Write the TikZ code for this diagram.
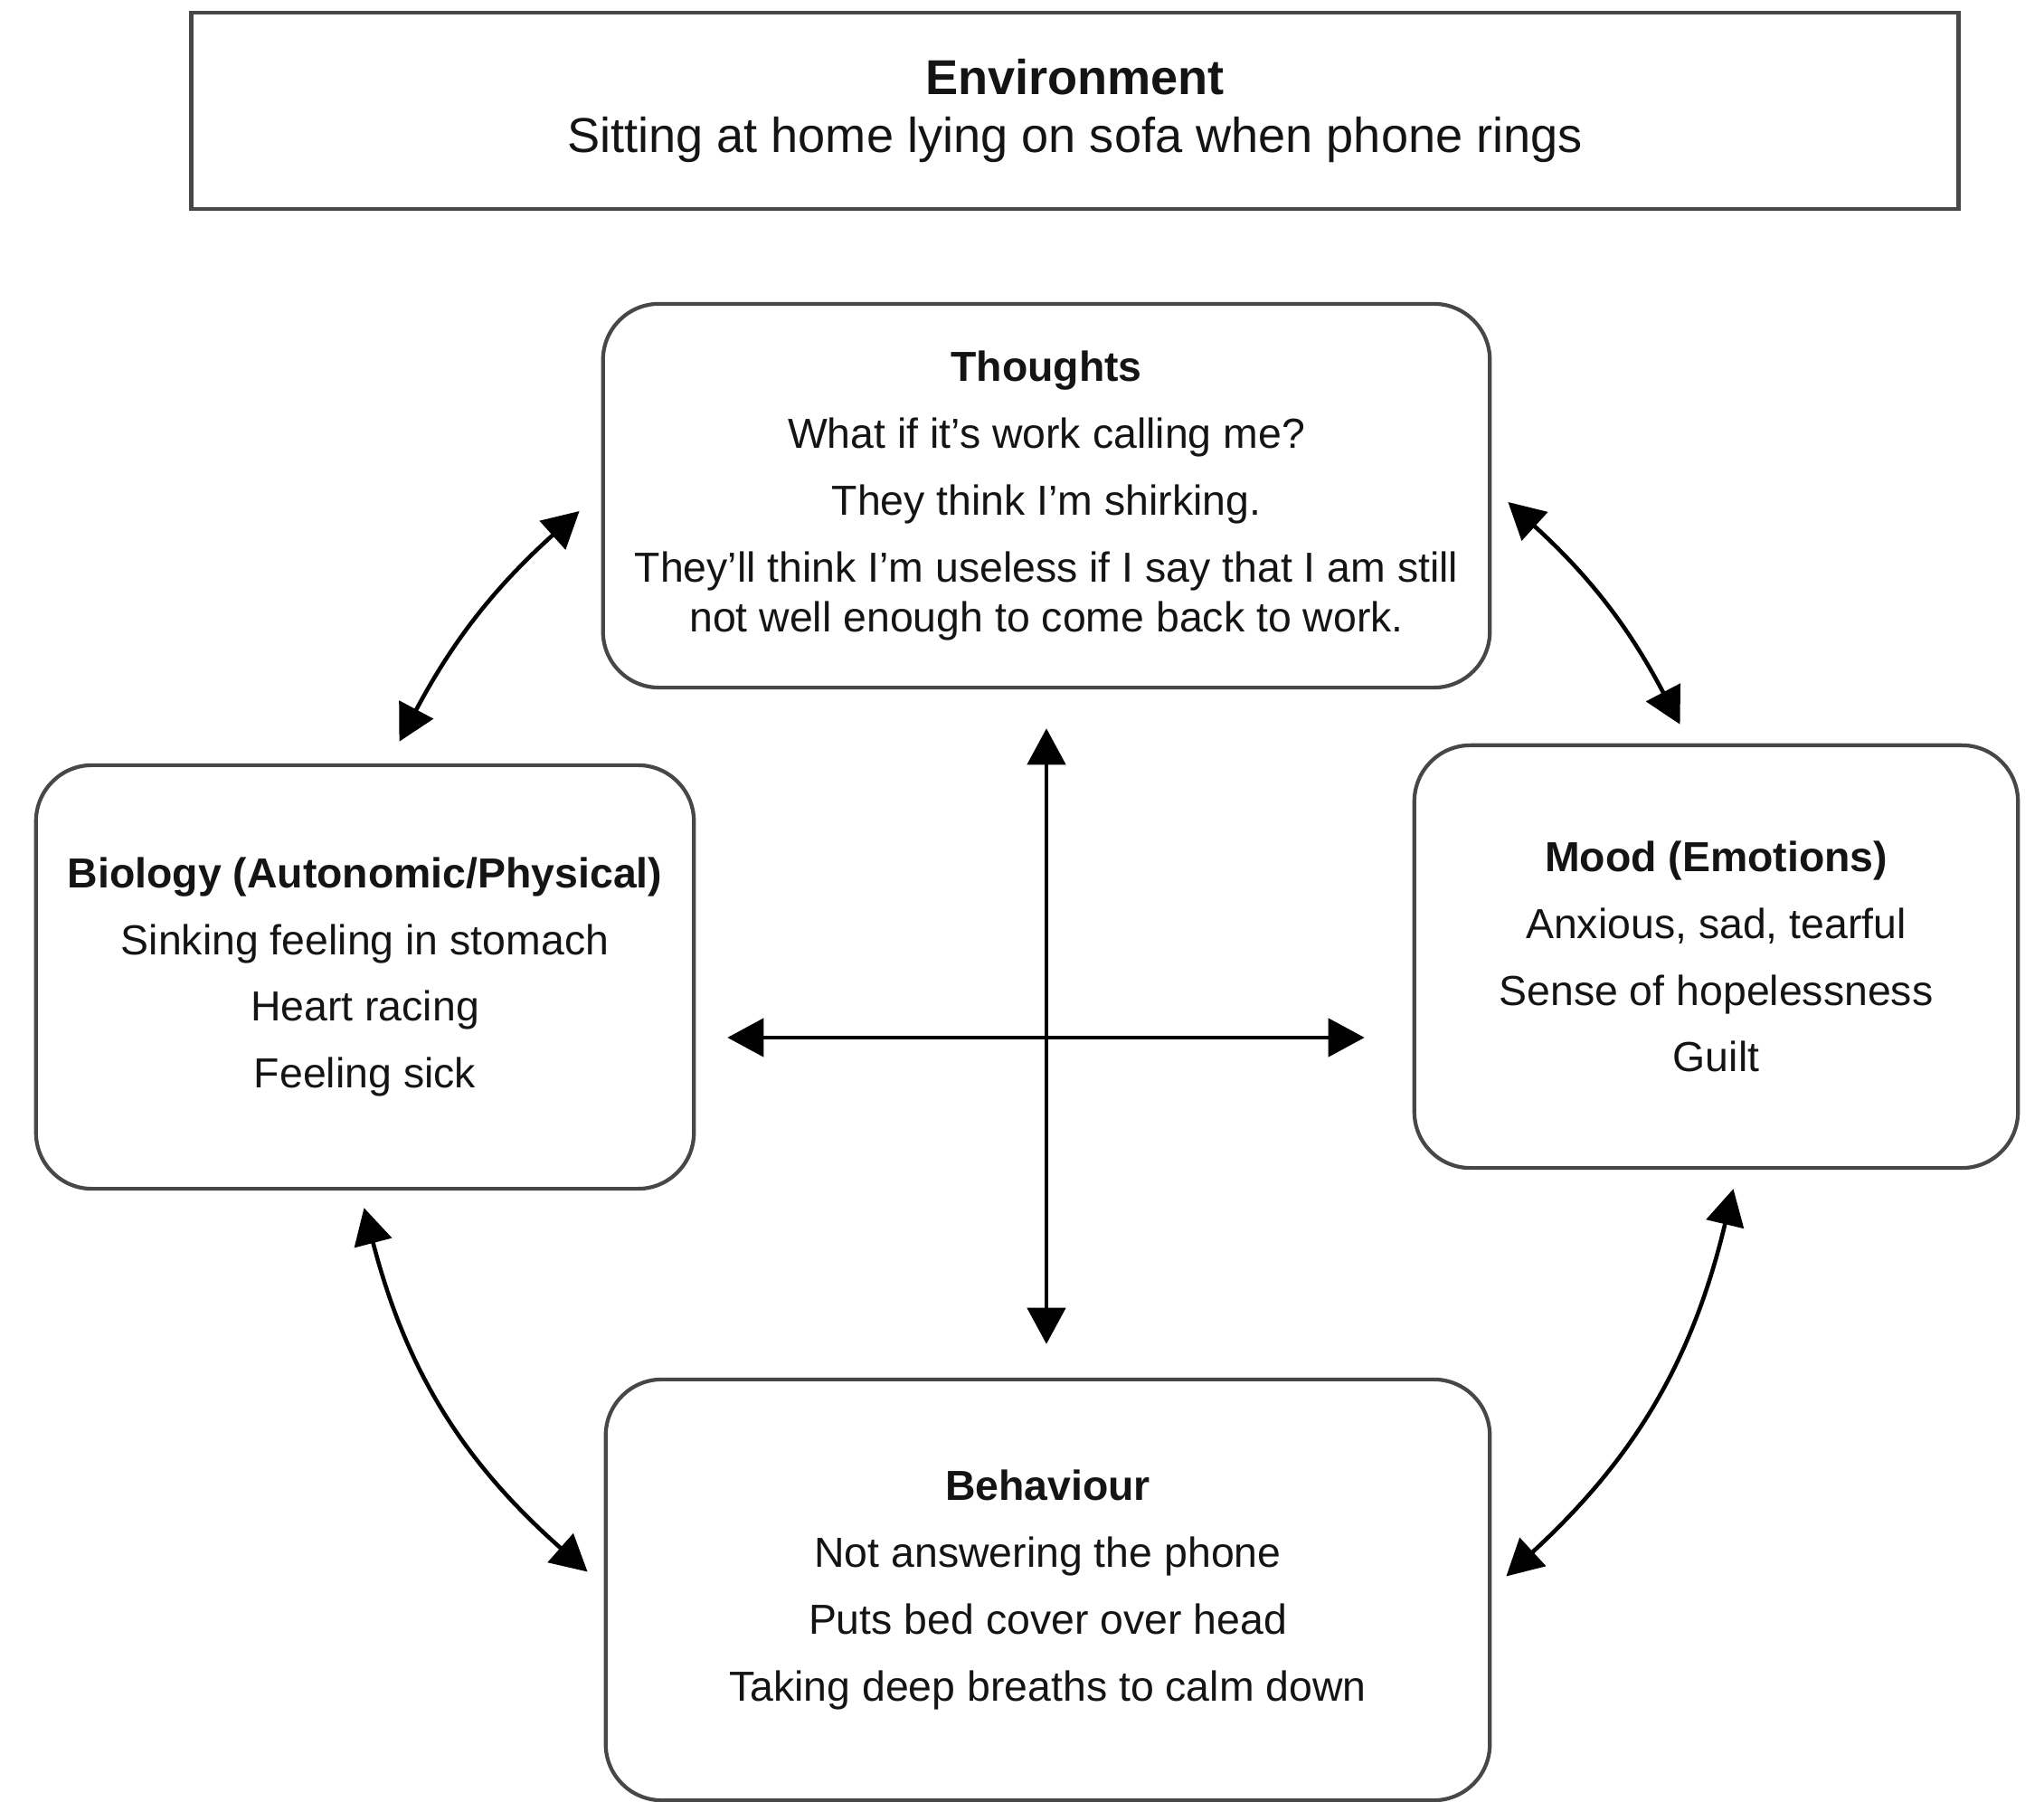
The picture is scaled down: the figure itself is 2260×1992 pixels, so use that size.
\documentclass[tikz,border=0pt]{standalone}
\usepackage{fontspec}
\setmainfont{Liberation Sans}
\usetikzlibrary{arrows.meta,calc}

\begin{document}
\begin{tikzpicture}[x=0.01cm,y=-0.01cm,
  box/.style={draw=black!72, line width=1.2pt, rounded corners=0.62cm,
    align=center, inner sep=0pt, text=black!92,
    font=\fontsize{13.2}{15.6}\selectfont},
  envbox/.style={draw=black!72, line width=1.2pt, align=center, inner sep=0pt,
    text=black!92, font=\fontsize{15.4}{18.2}\selectfont},
  dbl/.style={{Triangle[length=0.4cm,width=0.42cm]}-{Triangle[length=0.4cm,width=0.42cm]},
    line width=1.3pt, black}
]
\useasboundingbox (0,0) rectangle (2260,1992);

% situation at the top
\node[envbox, minimum width=19.53cm, minimum height=2.17cm] (env) at (1188.5,122.5)
  {\textbf{Environment}\\Sitting at home lying on sofa when phone rings};

% the four areas
\node[box, minimum width=9.8cm, minimum height=4.24cm] (thoughts) at (1157,548)
  {\textbf{Thoughts}\\[0.19cm]
   What if it’s work calling me?\\[0.19cm]
   They think I’m shirking.\\[0.19cm]
   They’ll think I’m useless if I say that I am still\\
   not well enough to come back to work.};

\node[box, minimum width=7.27cm, minimum height=4.68cm] (biology) at (403.5,1080)
  {\textbf{Biology (Autonomic/Physical)}\\[0.19cm]
   Sinking feeling in stomach\\[0.19cm]
   Heart racing\\[0.19cm]
   Feeling sick};

\node[box, minimum width=6.67cm, minimum height=4.67cm] (mood) at (1897.5,1057.5)
  {\textbf{Mood (Emotions)}\\[0.19cm]
   Anxious, sad, tearful\\[0.19cm]
   Sense of hopelessness\\[0.19cm]
   Guilt};

\node[box, minimum width=9.77cm, minimum height=4.65cm] (behaviour) at (1158.5,1757.5)
  {\textbf{Behaviour}\\[0.19cm]
   Not answering the phone\\[0.19cm]
   Puts bed cover over head\\[0.19cm]
   Taking deep breaths to calm down};

% central cross
\coordinate (hub) at (1157,1147);
\draw[dbl] ($(thoughts.south)+(0,43)$) -- ($(thoughts.south |- behaviour.north)+(0,-37)$);
\draw[dbl] ($(biology.east |- hub)+(35,0)$) -- ($(mood.west |- hub)+(-53,0)$);

% curved links around the cycle
\draw[dbl] ($(biology.north)+(38,-24)$) to[bend left=10] ($(thoughts.west)+(-24,17)$);
\draw[dbl] ($(thoughts.east)+(18,7)$) to[bend left=10] ($(mood.north)+(-40,-21)$);
\draw[dbl] ($(biology.south)+(-1,19)$) to[bend right=17] ($(behaviour.west)+(-18,-20)$);
\draw[dbl] ($(mood.south)+(19,21)$) to[bend left=17] ($(behaviour.east)+(16,-15)$);
\end{tikzpicture}
\end{document}
